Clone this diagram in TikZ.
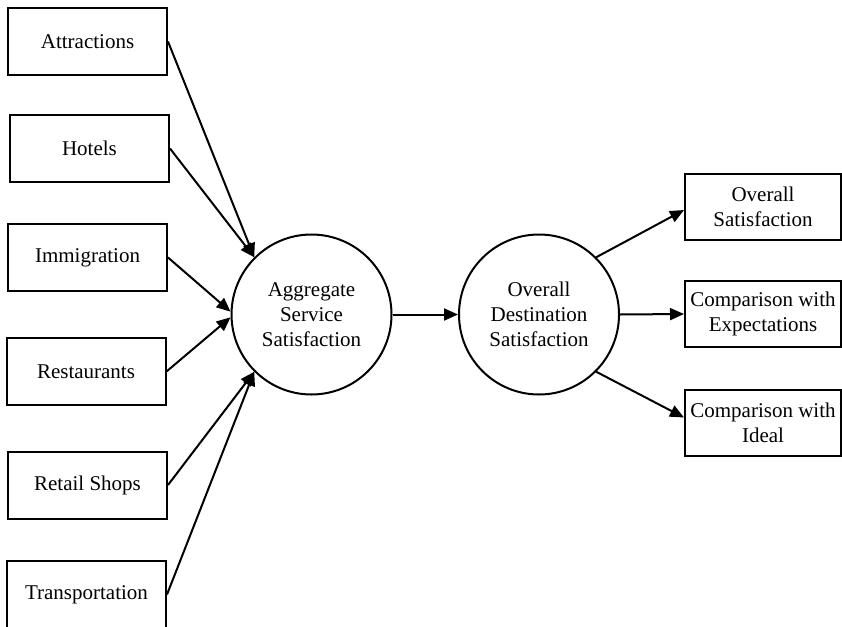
\documentclass[tikz,border=0pt]{standalone}
\usepackage{fontspec}
\setmainfont{Liberation Serif}
\usetikzlibrary{arrows.meta}
\begin{document}
\begin{tikzpicture}[x=1pt,y=-1pt,
  every node/.style={font=\fontsize{21}{25}\selectfont, align=center},
  factor/.style={draw, line width=2pt, minimum width=159pt, minimum height=67pt, inner sep=0pt},
  outcome/.style={draw, line width=2pt, minimum width=156pt, minimum height=66pt, inner sep=0pt},
  construct/.style={draw, circle, line width=2pt, minimum size=160pt, inner sep=0pt},
  link/.style={line width=2pt, -{Triangle[length=14pt,width=12pt]}}]
\useasboundingbox (0,0) rectangle (842,626);

% service factors
\node[factor] (attr)  at (87.5,41.5)  {Attractions};
\node[factor] (hotel) at (89.5,148.5) {Hotels};
\node[factor] (immig) at (87.5,257.5) {Immigration};
\node[factor] (rest)  at (86,371.5)   {Restaurants};
\node[factor] (shop)  at (87.5,485)   {Retail Shops};
\node[factor] (trans) at (86.5,594.5) {Transportation};

% latent constructs
\node[construct] (agg)  at (311.5,314.5) {Aggregate\\Service\\Satisfaction};
\node[construct] (dest) at (539,314.5)   {Overall\\Destination\\Satisfaction};

% indicators
\node[outcome] (os)    at (763,207)   {Overall\\Satisfaction};
\node[outcome] (exp)   at (763,314)   {Comparison with\\Expectations};
\node[outcome] (ideal) at (763,422.5) {Comparison with\\Ideal};

% paths
\draw[link] (attr.east)  -- (agg.135);
\draw[link] (hotel.east) -- (agg.135);
\draw[link] (immig.east) -- (agg.178);
\draw[link] (rest.east)  -- (agg.182);
\draw[link] (shop.east)  -- (agg.225);
\draw[link] (trans.east) -- (agg.225);
\draw[link] (agg.east) -- (dest.west);
\draw[link] (dest.45)  -- ([yshift=-3pt]os.west);
\draw[link] (dest.east) -- (exp.west);
\draw[link] (dest.-45) -- ([yshift=5pt]ideal.west);
\end{tikzpicture}
\end{document}
